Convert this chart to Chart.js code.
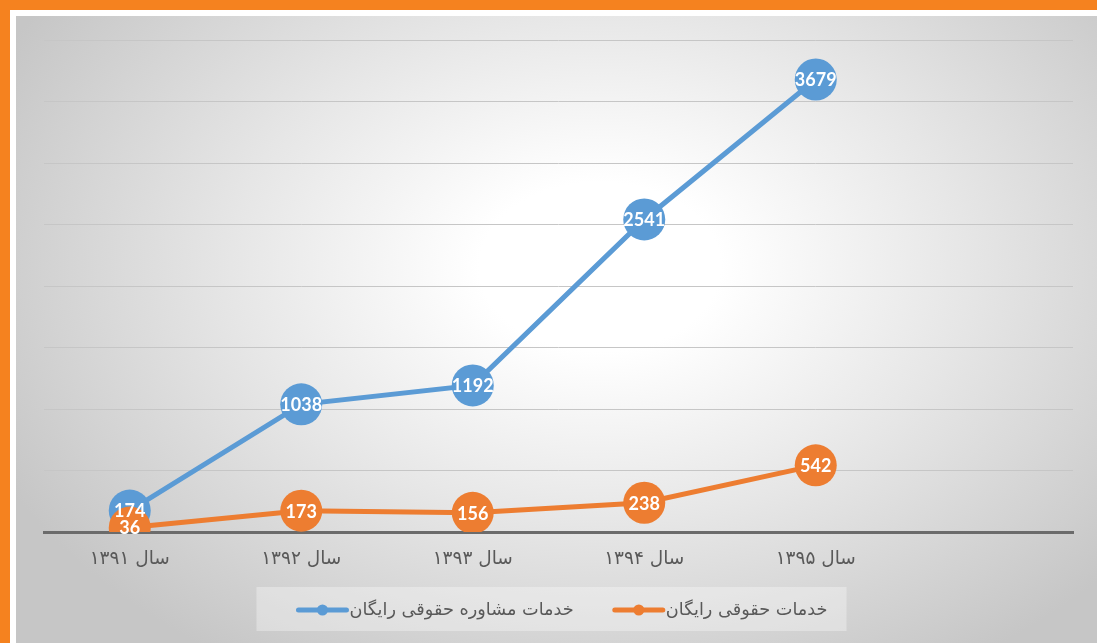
<!DOCTYPE html>
<html>
<head>
<meta charset="utf-8">
<script src="https://cdn.jsdelivr.net/npm/chart.js@4.4.1/dist/chart.umd.min.js"></script>
<style>
  html, body { margin: 0; padding: 0; width: 1097px; height: 643px; overflow: hidden; background: #F5821F; }
  #white { position: absolute; left: 10px; top: 10px; width: 1100px; height: 650px; background: #ffffff; }
  #wrap { position: absolute; left: 16px; top: 16px; width: 1081px; height: 627px;
    background: radial-gradient(ellipse 62% 75% at 54% 40%, #ffffff 0%, #ffffff 18%, #e6e6e6 55%, #c6c6c6 100%); }
  canvas { display: block; }
</style>
</head>
<body>
<div id="white"></div>
<div id="wrap"><canvas id="c" width="1081" height="627"></canvas></div>
<script>
const categories = ['سال ۱۳۹۱', 'سال ۱۳۹۲', 'سال ۱۳۹۳', 'سال ۱۳۹۴', 'سال ۱۳۹۵', ''];
const consultValues = [174, 1038, 1192, 2541, 3679];
const legalValues = [36, 173, 156, 238, 542];
const seriesNames = ['خدمات مشاوره حقوقی رایگان', 'خدمات حقوقی رایگان'];
const seriesColors = ['#5B9BD5', '#ED7D31'];
const yMin = 0, yMax = 4000, yStep = 500;

const TEXT_FONT = '"DejaVu Sans", sans-serif';

const valueLabels = {
  id: 'valueLabels',
  afterDatasetsDraw(chart) {
    const ctx = chart.ctx;
    ctx.save();
    ctx.font = 'bold 18px Lato, "Open Sans", sans-serif';
    ctx.fillStyle = '#ffffff';
    ctx.textAlign = 'center';
    ctx.textBaseline = 'middle';
    chart.data.datasets.forEach((ds, i) => {
      const meta = chart.getDatasetMeta(i);
      meta.data.forEach((el, j) => {
        const v = ds.data[j];
        if (v == null) return;
        ctx.fillText(String(v), el.x, el.y + 1);
      });
    });
    ctx.restore();
  }
};

const customLegend = {
  id: 'customLegend',
  afterDraw(chart) {
    const ctx = chart.ctx;
    ctx.save();
    ctx.font = '17.7px ' + TEXT_FONT;
    const markerW = 54, gap = 38;
    const items = chart.data.datasets.map(ds => ({ text: ds.label, color: ds.borderColor, w: ctx.measureText(ds.label).width }));
    let total = 0;
    items.forEach((it, i) => { total += markerW + it.w + (i ? gap : 0); });
    const cx = 545.5, cy = 594;
    let x = cx - total / 2;
    ctx.fillStyle = 'rgba(255,255,255,0.32)';
    ctx.fillRect(x - 39, 571, total + 39 + 19, 44);
    items.forEach((it, i) => {
      if (i) x += gap;
      ctx.strokeStyle = it.color;
      ctx.lineWidth = 5;
      ctx.lineCap = 'round';
      ctx.beginPath();
      ctx.moveTo(x + 3, cy);
      ctx.lineTo(x + markerW - 3, cy);
      ctx.stroke();
      ctx.fillStyle = it.color;
      ctx.beginPath();
      ctx.arc(x + markerW / 2, cy, 5.5, 0, Math.PI * 2);
      ctx.fill();
      x += markerW;
      ctx.fillStyle = '#595959';
      ctx.textAlign = 'left';
      ctx.textBaseline = 'middle';
      ctx.fillText(it.text, x, cy);
      x += it.w;
    });
    ctx.restore();
  }
};

new Chart(document.getElementById('c'), {
  type: 'line',
  data: {
    labels: categories,
    datasets: [
      {
        label: seriesNames[0], data: consultValues,
        borderColor: seriesColors[0], backgroundColor: seriesColors[0],
        pointBackgroundColor: seriesColors[0], pointBorderWidth: 0,
        borderWidth: 5, pointRadius: 21, pointHoverRadius: 21, tension: 0, order: 1
      },
      {
        label: seriesNames[1], data: legalValues,
        borderColor: seriesColors[1], backgroundColor: seriesColors[1],
        pointBackgroundColor: seriesColors[1], pointBorderWidth: 0,
        borderWidth: 5, pointRadius: 21, pointHoverRadius: 21, tension: 0, order: 0
      }
    ]
  },
  options: {
    responsive: false,
    animation: false,
    events: [],
    layout: { padding: { left: 28, right: 24, top: 24, bottom: 66 } },
    plugins: { legend: { display: false }, tooltip: { enabled: false } },
    scales: {
      x: {
        offset: true,
        grid: { display: false, drawTicks: false },
        border: { display: true, color: '#6b6b6b', width: 3 },
        ticks: { color: '#595959', font: { family: TEXT_FONT, size: 18.5 }, padding: 16, maxRotation: 0, autoSkip: false },
        afterFit: s => { s.height = 45; }
      },
      y: {
        min: yMin, max: yMax,
        ticks: { stepSize: yStep, display: false },
        grid: { color: '#c6c6c6', lineWidth: 1, drawTicks: false },
        border: { display: false },
        afterFit: s => { s.width = 0; }
      }
    }
  },
  plugins: [valueLabels, customLegend]
});
</script>
</body>
</html>
